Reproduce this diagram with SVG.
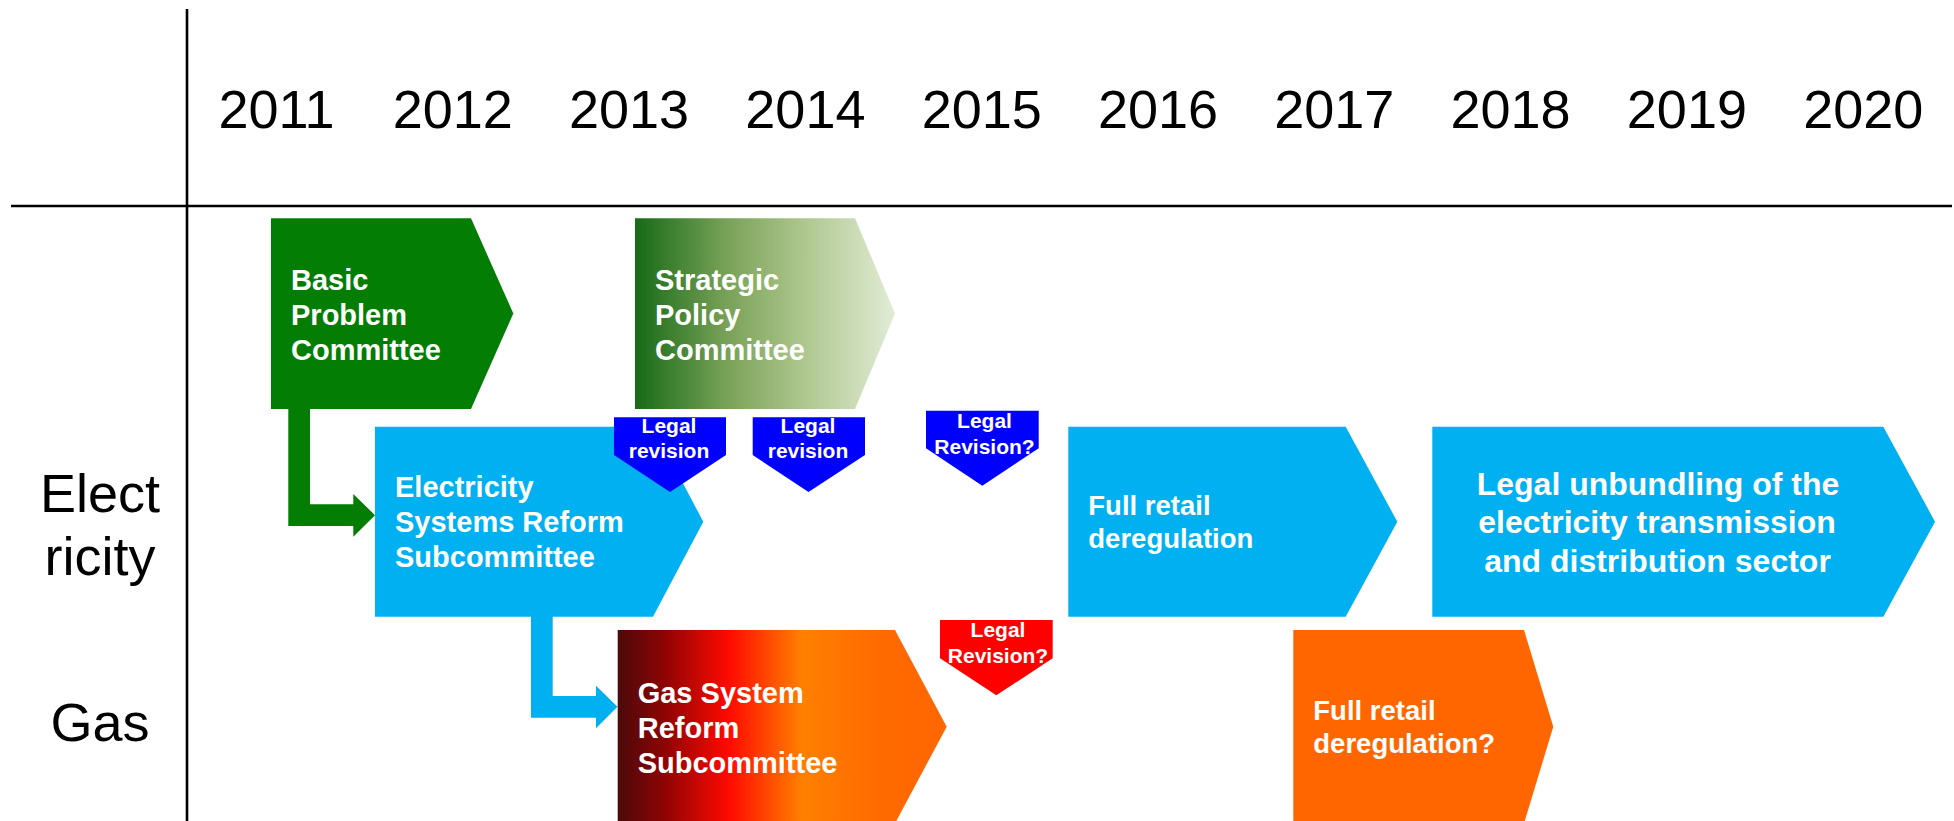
<svg xmlns="http://www.w3.org/2000/svg" width="1954" height="821" viewBox="0 0 1954 821">
  <defs>
    <linearGradient id="gradStrategic" x1="635" y1="0" x2="895" y2="0" gradientUnits="userSpaceOnUse">
      <stop offset="0" stop-color="#176a17"/>
      <stop offset="0.35" stop-color="#78a157"/>
      <stop offset="0.62" stop-color="#a9c388"/>
      <stop offset="1" stop-color="#e2ecd6"/>
    </linearGradient>
    <linearGradient id="gradGas" x1="617" y1="0" x2="947" y2="0" gradientUnits="userSpaceOnUse">
      <stop offset="0" stop-color="#4a0a0a"/>
      <stop offset="0.14" stop-color="#8c0404"/>
      <stop offset="0.34" stop-color="#ff0a00"/>
      <stop offset="0.56" stop-color="#ff8000"/>
      <stop offset="0.8" stop-color="#ff6a00"/>
      <stop offset="1" stop-color="#ff6600"/>
    </linearGradient>
    <style>
      .axis { stroke: #000; stroke-width: 2.6; fill: none; }
      .year { font-family: "Liberation Sans", Arial, sans-serif; font-size: 54px; fill: #000; text-anchor: middle; }
      .row { font-family: "Liberation Sans", Arial, sans-serif; font-size: 54px; fill: #000; text-anchor: middle; }
      .lbl { font-family: "Liberation Sans", Arial, sans-serif; font-weight: bold; fill: #fff; }
      .big { font-size: 29px; }
      .mid { font-size: 27.5px; }
      .wide { font-size: 32px; text-anchor: middle; }
      .tag { font-size: 21px; text-anchor: middle; }
      .green { fill: #037d04; }
      .cyan { fill: #00b0f0; }
      .blue { fill: #0000ff; }
      .red { fill: #ff0000; }
      .orange { fill: #ff6600; }
    </style>
  </defs>

  <rect width="1954" height="821" fill="#fff"/>

  <!-- grid lines -->
  <g id="axes">
    <line class="axis" x1="187" y1="9" x2="187" y2="821"/>
    <line class="axis" x1="11" y1="206" x2="1952" y2="206"/>
  </g>

  <!-- year header -->
  <g id="years">
    <text class="year" x="276.5" y="128">2011</text>
    <text class="year" x="452.8" y="128">2012</text>
    <text class="year" x="629.1" y="128">2013</text>
    <text class="year" x="805.4" y="128">2014</text>
    <text class="year" x="981.7" y="128">2015</text>
    <text class="year" x="1158" y="128">2016</text>
    <text class="year" x="1334.3" y="128">2017</text>
    <text class="year" x="1510.6" y="128">2018</text>
    <text class="year" x="1686.9" y="128">2019</text>
    <text class="year" x="1863.2" y="128">2020</text>
  </g>

  <!-- row labels -->
  <g id="rows">
    <text class="row" x="100" y="512">Elect</text>
    <text class="row" x="100" y="575">ricity</text>
    <text class="row" x="100" y="741">Gas</text>
  </g>

  <!-- connectors -->
  <g id="connectors">
    <polygon class="green" points="288.3,409 310,409 310,504.3 353.3,504.3 353.3,494 375,515.2 353.3,536.7 353.3,526 288.3,526"/>
    <polygon class="cyan" points="531,616 552.7,616 552.7,696 596,696 596,685.7 617.5,706.8 596,728.3 596,717.7 531,717.7"/>
  </g>

  <g id="basic-problem">
    <polygon class="green" points="271,218.3 471,218.3 513.3,313.5 471,409 271,409"/>
    <text class="lbl big" x="291" y="290">Basic</text>
    <text class="lbl big" x="291" y="325">Problem</text>
    <text class="lbl big" x="291" y="360">Committee</text>
  </g>

  <g id="strategic-policy">
    <polygon fill="url(#gradStrategic)" points="635,218.3 855,218.3 895,313.5 855,409 635,409"/>
    <text class="lbl big" x="655" y="290">Strategic</text>
    <text class="lbl big" x="655" y="325">Policy</text>
    <text class="lbl big" x="655" y="360">Committee</text>
  </g>

  <g id="electricity-reform">
    <polygon class="cyan" points="375,426.7 653,426.7 703.3,521.7 653,616.7 375,616.7"/>
    <text class="lbl big" x="395" y="496.7">Electricity</text>
    <text class="lbl big" x="395" y="532">Systems Reform</text>
    <text class="lbl big" x="395" y="567">Subcommittee</text>
  </g>

  <g id="gas-reform">
    <polygon fill="url(#gradGas)" points="617.7,630 895,630 946.7,726.7 895,823.4 617.7,823.4"/>
    <text class="lbl big" x="637.7" y="702.7">Gas System</text>
    <text class="lbl big" x="637.7" y="737.7">Reform</text>
    <text class="lbl big" x="637.7" y="772.5">Subcommittee</text>
  </g>

  <g id="legal-revision-1">
    <polygon class="blue" points="614,417.3 726,417.3 726,455 670,492 614,455"/>
    <text class="lbl tag" x="669" y="433.3">Legal</text>
    <text class="lbl tag" x="669" y="458.3">revision</text>
  </g>

  <g id="legal-revision-2">
    <polygon class="blue" points="752.7,417.3 865,417.3 865,455 808.5,492 752.7,455"/>
    <text class="lbl tag" x="808" y="433.3">Legal</text>
    <text class="lbl tag" x="808" y="458.3">revision</text>
  </g>

  <g id="legal-revision-3">
    <polygon class="blue" points="926,410.7 1038.7,410.7 1038.7,448.3 982.3,485.7 926,448.3"/>
    <text class="lbl tag" x="984.5" y="428.3">Legal</text>
    <text class="lbl tag" x="984.5" y="454">Revision?</text>
  </g>

  <g id="legal-revision-gas">
    <polygon class="red" points="940,620 1052.7,620 1052.7,658.3 996.3,695.3 940,658.3"/>
    <text class="lbl tag" x="998" y="637">Legal</text>
    <text class="lbl tag" x="998" y="663">Revision?</text>
  </g>

  <g id="retail-electricity">
    <polygon class="cyan" points="1068.3,426.7 1345.7,426.7 1397.3,521.7 1345.7,616.7 1068.3,616.7"/>
    <text class="lbl mid" x="1088.3" y="515">Full retail</text>
    <text class="lbl mid" x="1088.3" y="548.3">deregulation</text>
  </g>

  <g id="unbundling">
    <polygon class="cyan" points="1432.3,426.7 1883.3,426.7 1935,521.7 1883.3,616.7 1432.3,616.7"/>
    <text class="lbl wide" x="1658" y="495">Legal unbundling of the</text>
    <text class="lbl wide" x="1657" y="533.3">electricity transmission</text>
    <text class="lbl wide" x="1657.5" y="571.7">and distribution sector</text>
  </g>

  <g id="retail-gas">
    <polygon class="orange" points="1293.3,630 1524,630 1553.3,726.7 1524,823.4 1293.3,823.4"/>
    <text class="lbl mid" x="1313.3" y="720">Full retail</text>
    <text class="lbl mid" x="1313.3" y="753.3">deregulation?</text>
  </g>
</svg>
